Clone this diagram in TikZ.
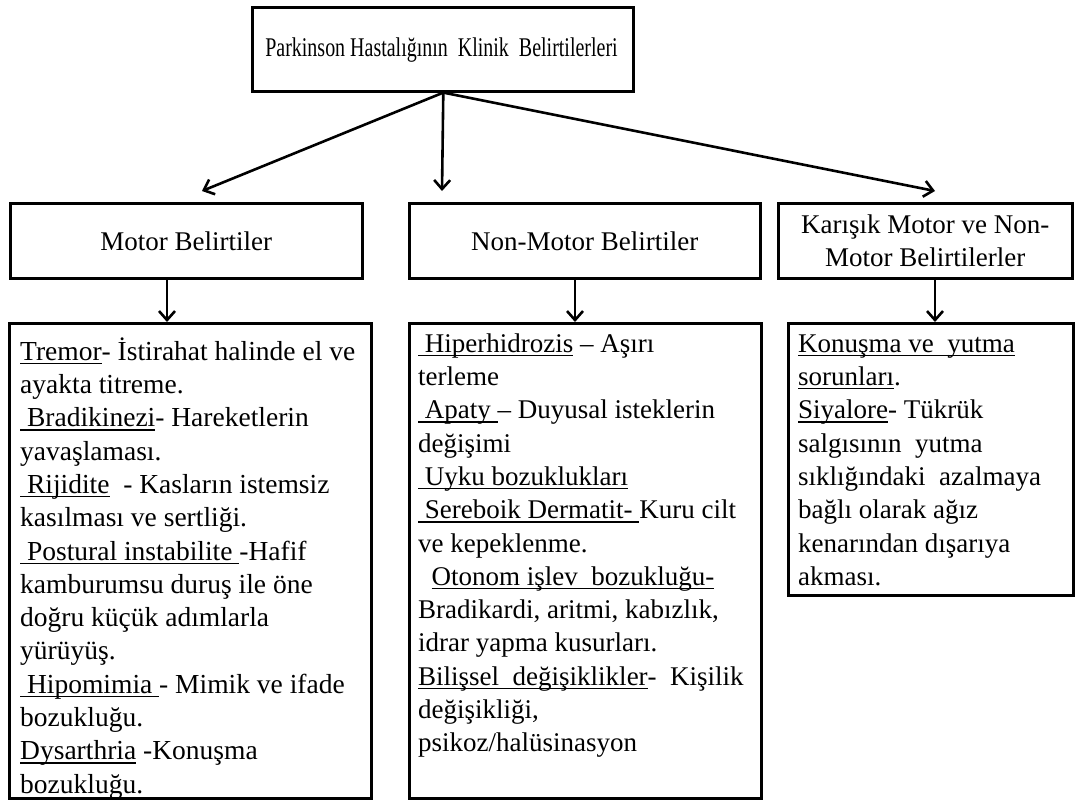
\documentclass[tikz,border=0pt]{standalone}
\usepackage{fontspec}
\usepackage{graphicx}
\setmainfont{Liberation Serif}
\usetikzlibrary{arrows.meta}
\newsavebox\ulbox
\newcommand\uln[1]{\sbox\ulbox{#1}\rlap{\rule[-3.8pt]{\wd\ulbox}{1.3pt}}\usebox\ulbox}
\tikzset{
  box/.style={draw=black, line width=2.6pt, fill=white, inner sep=0pt},
  txt/.style={font=\fontsize{27}{33.3}\selectfont, align=left, inner sep=0pt, anchor=north west},
  ctr/.style={font=\fontsize{27}{33}\selectfont, align=center, inner sep=0pt},
  arr/.style={line width=2.6pt, -{Straight Barb[length=9pt,width=16pt,line width=2.6pt]}}
}
\begin{document}
\begin{tikzpicture}[x=1pt,y=-1pt]
\useasboundingbox (0,0) rectangle (1075,800);
% top
\node[box, minimum width=381pt, minimum height=84pt, anchor=north west] (top) at (251,6) {};
\node[ctr] (toptxt) at (441.5,50) {\scalebox{0.74}[1]{Parkinson Hastalığının\ \ Klinik\ \ Belirtilerleri}};
% level 2
\node[box, minimum width=352pt, minimum height=75pt, anchor=north west] (m2) at (9,202) {};
\node[ctr] (m2t) at (m2.center) {Motor Belirtiler};
\node[box, minimum width=351pt, minimum height=75pt, anchor=north west] (n2) at (408,202) {};
\node[ctr] (n2t) at (n2.center) {Non-Motor Belirtiler};
\node[box, minimum width=294pt, minimum height=75pt, anchor=north west] (k2) at (777,202) {};
\node[ctr] (k2t) at (k2.center) {Karışık Motor ve Non-\\Motor Belirtilerler};
% level 3
\node[box, minimum width=362pt, minimum height=475pt, anchor=north west] (m3) at (8,322) {};
\node[box, minimum width=352pt, minimum height=475pt, anchor=north west] (n3) at (408,322) {};
\node[box, minimum width=285pt, minimum height=272pt, anchor=north west] (k3) at (787,322) {};
\node[txt, font=\fontsize{27.5}{33.3}\selectfont] (m3t) at (20,336.7) {\strut\uln{Tremor}- İstirahat halinde el ve\\
ayakta titreme.\\
\uln{\ Bradikinezi}- Hareketlerin\\
yavaşlaması.\\
\uln{\ Rijidite}\ \ - Kasların istemsiz\\
kasılması ve sertliği.\\
\uln{\ Postural instabilite\ }-Hafif\\
kamburumsu duruş ile öne\\
doğru küçük adımlarla\\
yürüyüş.\\
\uln{\ Hipomimia\ }- Mimik ve ifade\\
bozukluğu.\\
\uln{Dysarthria} -Konuşma\\
bozukluğu.};
\node[txt] (n3t) at (418,328.7) {\strut\uln{\ Hiperhidrozis} – Aşırı\\
terleme\\
\uln{\ Apaty\ }– Duyusal isteklerin\\
değişimi\\
\uln{\ Uyku bozuklukları}\\
\uln{\ Sereboik Dermatit-\ }Kuru cilt\\
ve kepeklenme.\\
\ \ \uln{Otonom işlev\ \ bozukluğu-}\\
Bradikardi, aritmi, kabızlık,\\
idrar yapma kusurları.\\
\uln{Bilişsel\ \ değişiklikler}-\ \ Kişilik\\
değişikliği,\\
psikoz/halüsinasyon};
\node[txt] (k3t) at (798,328.7) {\strut\uln{Konuşma ve\ \ yutma}\\
\uln{sorunları}.\\
\uln{Siyalore}- Tükrük\\
salgısının\ \ yutma\\
sıklığındaki\ \ azalmaya\\
bağlı olarak ağız\\
kenarından dışarıya\\
akması.};
% arrow targets
\coordinate (e1) at (202,191);
\coordinate (e2) at (442,191);
\coordinate (e3) at (935,191);
\coordinate (d1) at (167,0);
\coordinate (d2) at (575,0);
\coordinate (d3) at (935,0);
\draw[arr] ([xshift=0.5pt]top.south) -- (e1);
\draw[arr] ([xshift=0.5pt]top.south) -- (e2);
\draw[arr] ([xshift=0.5pt]top.south) -- (e3);
\draw[arr] (m2.south -| d1) -- (m3.north -| d1);
\draw[arr] (n2.south -| d2) -- (n3.north -| d2);
\draw[arr] (k2.south -| d3) -- (k3.north -| d3);
\end{tikzpicture}
\end{document}
